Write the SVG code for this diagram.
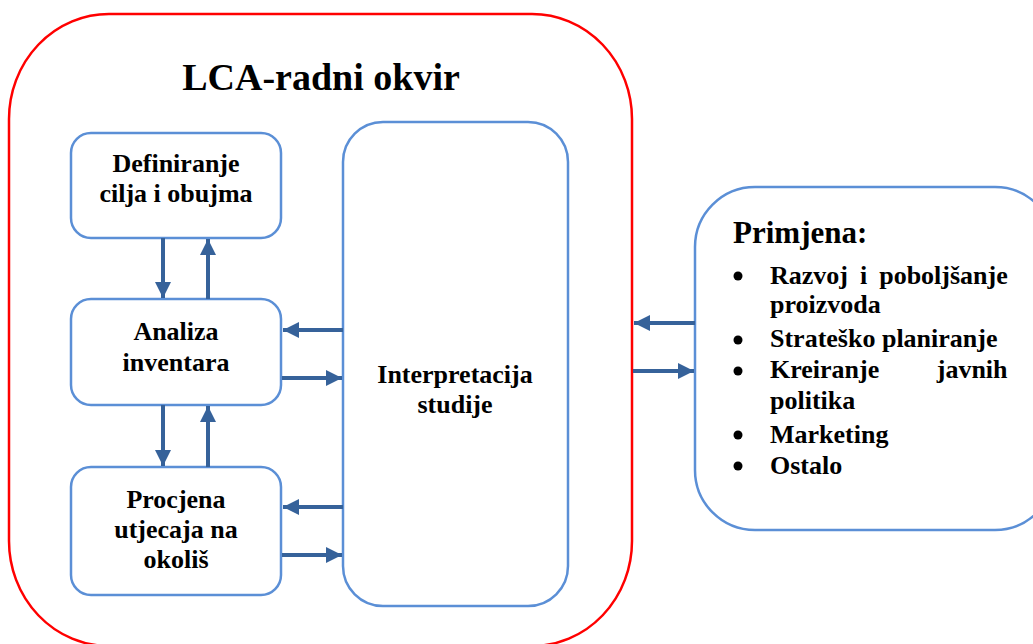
<svg xmlns="http://www.w3.org/2000/svg" width="1033" height="644" viewBox="0 0 1033 644">
<style>
.frame{fill:#fff;stroke:#ff0000;stroke-width:2.5}
.box{fill:#fff;stroke:#5b8fd6;stroke-width:2.5}
.t{font-family:"Liberation Serif","Times New Roman",serif;font-weight:bold;fill:#000}
.c{text-anchor:middle;font-size:26px}
.b{font-size:26px}
.con{stroke:#36629a;stroke-width:4;fill:none}
</style>
<defs>
<marker id="ah" viewBox="0 0 10 10" refX="10" refY="5" markerWidth="4" markerHeight="4" markerUnits="strokeWidth" orient="auto">
<path d="M0,0 L10,5 L0,10 Z" fill="#36629a"/>
</marker>
</defs>
<rect width="1033" height="644" fill="#fff"/>
<g id="frame">
<rect class="frame" x="9" y="14" width="623" height="632" rx="100" ry="105"/>
<text class="t" x="321" y="90" font-size="38" text-anchor="middle">LCA-radni okvir</text>
</g>
<g id="definiranje">
<rect class="box" x="71" y="133" width="210" height="105" rx="20"/>
<text class="t c" x="176" y="172">Definiranje</text>
<text class="t c" x="176" y="202">cilja i obujma</text>
</g>
<g id="analiza">
<rect class="box" x="71" y="299" width="210" height="106" rx="20"/>
<text class="t c" x="176" y="340">Analiza</text>
<text class="t c" x="176" y="371">inventara</text>
</g>
<g id="procjena">
<rect class="box" x="71" y="467" width="210" height="128" rx="20"/>
<text class="t c" x="176" y="508">Procjena</text>
<text class="t c" x="176" y="538">utjecaja na</text>
<text class="t c" x="176" y="568">okoliš</text>
</g>
<g id="interpretacija">
<rect class="box" x="343" y="122" width="225" height="484" rx="40"/>
<text class="t c" x="455" y="383">Interpretacija</text>
<text class="t c" x="455" y="413">studije</text>
</g>
<g id="primjena">
<rect class="box" x="695" y="187" width="360" height="343" rx="60"/>
<text class="t" x="733" y="243" font-size="31">Primjena:</text>
<circle cx="738" cy="276" r="4.5" fill="#000"/>
<circle cx="738" cy="340" r="4.5" fill="#000"/>
<circle cx="738" cy="371" r="4.5" fill="#000"/>
<circle cx="738" cy="435" r="4.5" fill="#000"/>
<circle cx="738" cy="466" r="4.5" fill="#000"/>
<text class="t b" x="770" y="284" word-spacing="5.5">Razvoj i poboljšanje</text>
<text class="t b" x="770" y="313">proizvoda</text>
<text class="t b" x="770" y="347">Strateško planiranje</text>
<text class="t b" x="770" y="378" word-spacing="51">Kreiranje javnih</text>
<text class="t b" x="770" y="409">politika</text>
<text class="t b" x="770" y="443">Marketing</text>
<text class="t b" x="770" y="474">Ostalo</text>
</g>
<g id="connectors">
<line class="con" x1="163" y1="238" x2="163" y2="298" marker-end="url(#ah)"/>
<line class="con" x1="208" y1="299" x2="208" y2="239" marker-end="url(#ah)"/>
<line class="con" x1="163" y1="405" x2="163" y2="466" marker-end="url(#ah)"/>
<line class="con" x1="208" y1="467" x2="208" y2="406" marker-end="url(#ah)"/>
<line class="con" x1="343" y1="330" x2="283" y2="330" marker-end="url(#ah)"/>
<line class="con" x1="282" y1="378" x2="342" y2="378" marker-end="url(#ah)"/>
<line class="con" x1="343" y1="507" x2="283" y2="507" marker-end="url(#ah)"/>
<line class="con" x1="282" y1="555" x2="342" y2="555" marker-end="url(#ah)"/>
<line class="con" x1="695" y1="323" x2="634" y2="323" marker-end="url(#ah)"/>
<line class="con" x1="633" y1="371" x2="694" y2="371" marker-end="url(#ah)"/>
</g>
</svg>
